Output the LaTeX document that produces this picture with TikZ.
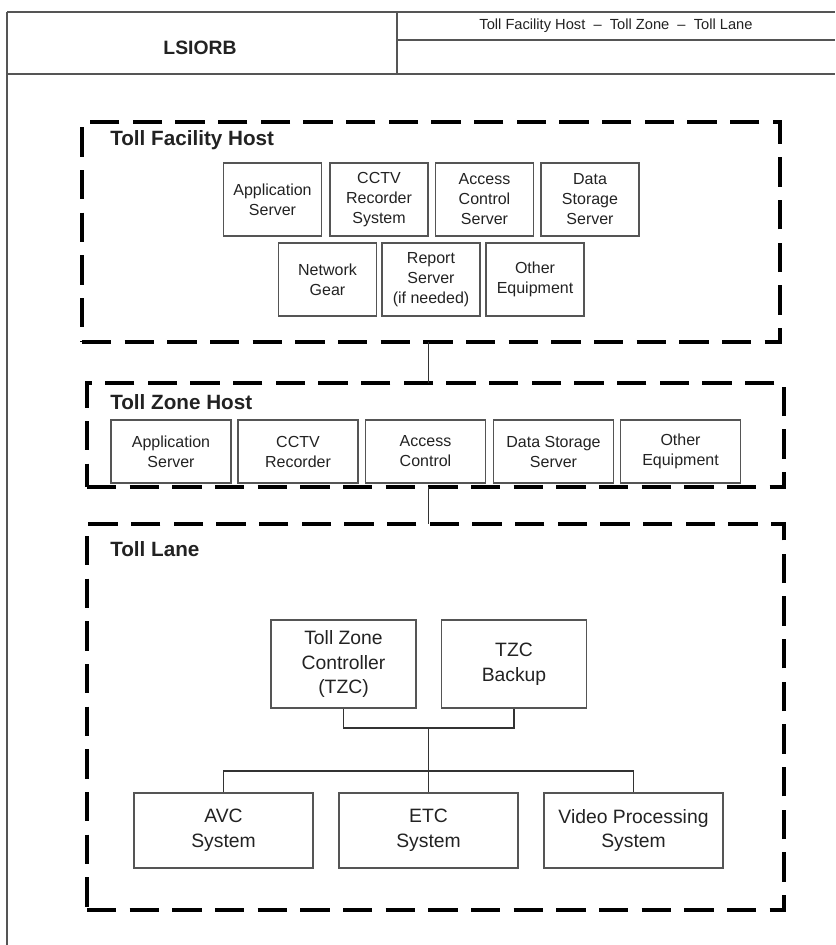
\documentclass[tikz,border=0pt]{standalone}
\usepackage{fontspec}
\setmainfont{Liberation Sans}
\definecolor{boxgray}{HTML}{555555}
\definecolor{inkgray}{HTML}{222222}
\tikzset{
	hdrline/.style={draw=boxgray,line width=1.4pt},
	hostbox/.style={draw=black,line width=3pt,dash pattern=on 22pt off 10pt,inner sep=0pt,outer sep=0pt},
	hosttitle/.style={anchor=west,inner sep=0pt,font=\fontsize{15.5}{18}\selectfont\bfseries,text=inkgray},
	unitbox/.style={draw=boxgray,line width=1.1pt,inner sep=0pt,align=center,text=inkgray,font=\fontsize{12}{15}\selectfont},
	lanebox/.style={unitbox,font=\fontsize{14.5}{18.5}\selectfont},
	wire/.style={draw=black!80,line width=0.9pt}
}
\begin{document}
\begin{tikzpicture}[x=0.75pt,y=-0.75pt]
		\useasboundingbox (0,0) rectangle (835,945);
		\draw [hdrline] (7,12)--(835,12);
		\draw [hdrline] (7,12)--(7,945);
		\draw [hdrline] (7,74)--(835,74);
		\draw [hdrline] (397,12)--(397,74);
		\draw [hdrline] (397,40)--(835,40);
		\node [font=\fontsize{14.5}{17}\selectfont\bfseries,text=inkgray] (sheet) at (200,48) {LSIORB};
		\node [font=\fontsize{11}{13}\selectfont,text=inkgray] (scope) at (616,26) {Toll Facility Host \ -- \ Toll Zone \ -- \ Toll Lane};
		\node [hostbox,minimum width=523.5pt,minimum height=165pt] (fac) at (431,232) {};
		\node [hosttitle] (factitle) at (110,140) {Toll Facility Host};
		\node [unitbox,minimum width=73.5pt,minimum height=54.75pt] (facapp) at (272.5,199.5) {Application\\Server};
		\node [unitbox,minimum width=73.5pt,minimum height=54.75pt] (faccctv) at (379,199.5) {CCTV\\Recorder\\System};
		\node [unitbox,minimum width=73.5pt,minimum height=54.75pt] (facaccess) at (484.5,199.5) {Access\\Control\\Server};
		\node [unitbox,minimum width=73.5pt,minimum height=54.75pt] (facdata) at (590,199.5) {Data\\Storage\\Server};
		\node [unitbox,minimum width=73.5pt,minimum height=54.75pt] (facnet) at (327.5,279.5) {Network\\Gear};
		\node [unitbox,minimum width=73.5pt,minimum height=54.75pt] (facreport) at (431,279.5) {Report\\Server\\(if needed)};
		\node [unitbox,minimum width=73.5pt,minimum height=54.75pt] (facother) at (535,279.5) {Other\\Equipment};
		\node [hostbox,minimum width=522.75pt,minimum height=78pt] (zone) at (435.5,435) {};
		\node [hosttitle] (zonetitle) at (110,402) {Toll Zone Host};
		\node [unitbox,minimum width=90pt,minimum height=47.25pt] (zoneapp) at (171,451.5) {Application\\Server};
		\node [unitbox,minimum width=90pt,minimum height=47.25pt] (zonecctv) at (298,451.5) {CCTV\\Recorder};
		\node [unitbox,minimum width=90pt,minimum height=47.25pt] (zoneaccess) at (425.5,451.5) {Access\\Control};
		\node [unitbox,minimum width=90pt,minimum height=47.25pt] (zonedata) at (553.5,451.5) {Data Storage\\Server};
		\node [unitbox,minimum width=90pt,minimum height=47.25pt] (zoneother) at (680.5,451.5) {Other\\Equipment};
		\node [hostbox,minimum width=522.75pt,minimum height=289.5pt] (lane) at (435.5,717) {};
		\node [hosttitle] (lanetitle) at (110,549) {Toll Lane};
		\node [lanebox,minimum width=108.75pt,minimum height=66pt] (tzc) at (343.5,664) {Toll Zone\\Controller\\(TZC)};
		\node [lanebox,minimum width=108.75pt,minimum height=66pt] (tzcbak) at (514,664) {TZC\\Backup};
		\node [lanebox,minimum width=134.25pt,minimum height=56.25pt] (avc) at (223.5,830.5) {AVC\\System};
		\node [lanebox,minimum width=134.25pt,minimum height=56.25pt] (etc) at (428.5,830.5) {ETC\\System};
		\node [lanebox,minimum width=134.25pt,minimum height=56.25pt] (vps) at (633.5,830.5) {Video Processing\\System};
		\coordinate (tzcjoin) at (428.5,728);
		\coordinate (lanebus) at (428.5,771);
		\draw [wire] (fac.south -| etc) -- (zone.north -| etc);
		\draw [wire] (zone.south -| etc) -- (lane.north -| etc);
		\draw [wire] (tzc.south) |- (tzcjoin) -| (tzcbak.south);
		\draw [wire] (tzcjoin) -- (etc.north);
		\draw [wire] (avc.north) |- (lanebus) -| (vps.north);
	\end{tikzpicture}
\end{document}
